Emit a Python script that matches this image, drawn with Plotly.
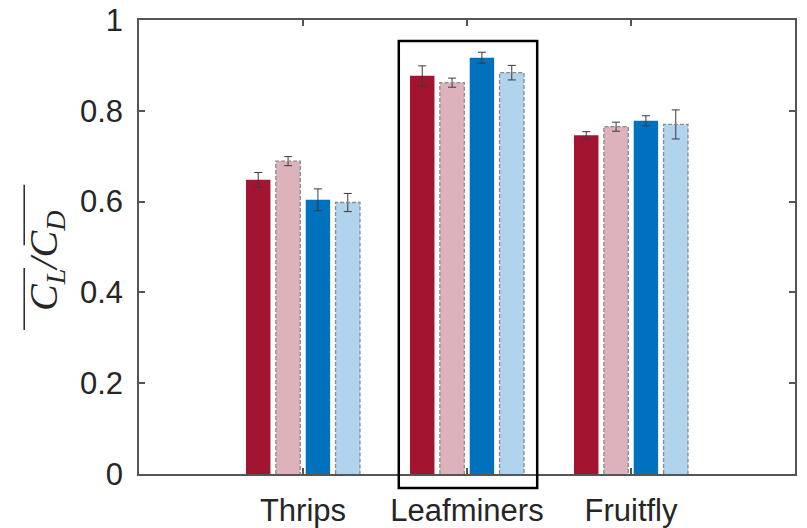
import plotly.graph_objects as go

categories = ["Thrips", "Leafminers", "Fruitfly"]
series_names = ["A", "B", "C", "D"]
values_a = [0.648, 0.877, 0.746]
values_b = [0.689, 0.862, 0.765]
values_c = [0.604, 0.917, 0.778]
values_d = [0.598, 0.884, 0.770]
errors_a = [0.016, 0.022, 0.008]
errors_b = [0.010, 0.010, 0.010]
errors_c = [0.024, 0.012, 0.011]
errors_d = [0.020, 0.016, 0.032]
y_ticks = [0, 0.2, 0.4, 0.6, 0.8, 1]

all_values = [values_a, values_b, values_c, values_d]
all_errors = [errors_a, errors_b, errors_c, errors_d]
fill_colors = ["#A2142F", "#DDB2BC", "#0072BD", "#B0D3EE"]
dashed = [False, True, False, True]

slot = 0.182
bar_w = 0.149
xpos = [i + 1 for i in range(len(categories))]

fig = go.Figure()
for k, (vals, errs) in enumerate(zip(all_values, all_errors)):
    off = (k - 1.5) * slot - bar_w / 2
    fig.add_trace(go.Bar(
        x=xpos, y=vals, width=bar_w, offset=off,
        marker=dict(color=fill_colors[k], line=dict(width=0)),
        error_y=dict(type="data", array=errs, color="#3a3a3a", thickness=1, width=4),
        name=series_names[k], showlegend=False,
    ))
for k, vals in enumerate(all_values):
    if not dashed[k]:
        continue
    off = (k - 1.5) * slot - bar_w / 2
    xs, ys = [], []
    for xc, v in zip(xpos, vals):
        x0 = xc + off
        x1 = x0 + bar_w
        xs += [x0, x0, x1, x1, None]
        ys += [0, v, v, 0, None]
    fig.add_trace(go.Scatter(x=xs, y=ys, mode="lines",
                             line=dict(color="#8a8a8a", width=1.3, dash="4px,2px"),
                             hoverinfo="skip", showlegend=False))

fig.add_shape(type="rect", xref="x domain", yref="y domain",
              x0=0.396, x1=0.607, y0=-0.031, y1=0.954,
              line=dict(color="black", width=2.5), fillcolor="rgba(0,0,0,0)", layer="above")

# y-axis title with overlines
fig.add_annotation(text="<i>C<sub>L</sub>/C<sub>D</sub></i>",
                   xref="paper", yref="paper", x=-0.142, y=0.469, showarrow=False,
                   xanchor="center", yanchor="middle",
                   textangle=-90, font=dict(family="Liberation Serif", size=40, color="#262626"))
for y0, y1 in [(0.317, 0.454), (0.504, 0.637)]:
    fig.add_shape(type="line", xref="paper", yref="paper", x0=-0.175, x1=-0.175,
                  y0=y0, y1=y1, line=dict(color="#262626", width=1.5))

axis_font = dict(family="Liberation Sans, Arial", size=31, color="#262626")
fig.update_layout(
    width=807, height=528,
    margin=dict(l=139, r=12, t=20, b=54),
    paper_bgcolor="white", plot_bgcolor="white",
    barmode="overlay",
    font=axis_font,
    xaxis=dict(range=[0, 4], tickvals=xpos, ticktext=categories, automargin=False,
               showline=True, linecolor="#555555", linewidth=1.5, mirror="ticks",
               ticks="inside", ticklen=6, tickcolor="#555555", tickwidth=1.5,
               showgrid=False, zeroline=False, tickfont=axis_font, ticklabelstandoff=8),
    yaxis=dict(range=[0, 1], tickvals=y_ticks, automargin=False,
               showline=True, linecolor="#555555", linewidth=1.5, mirror="ticks",
               ticks="inside", ticklen=6, tickcolor="#555555", tickwidth=1.5,
               showgrid=False, zeroline=False, tickfont=axis_font, ticklabelstandoff=8),
)
fig.write_html("out.html", config={"displayModeBar": False},
               post_script="document.body.style.margin='0';")
